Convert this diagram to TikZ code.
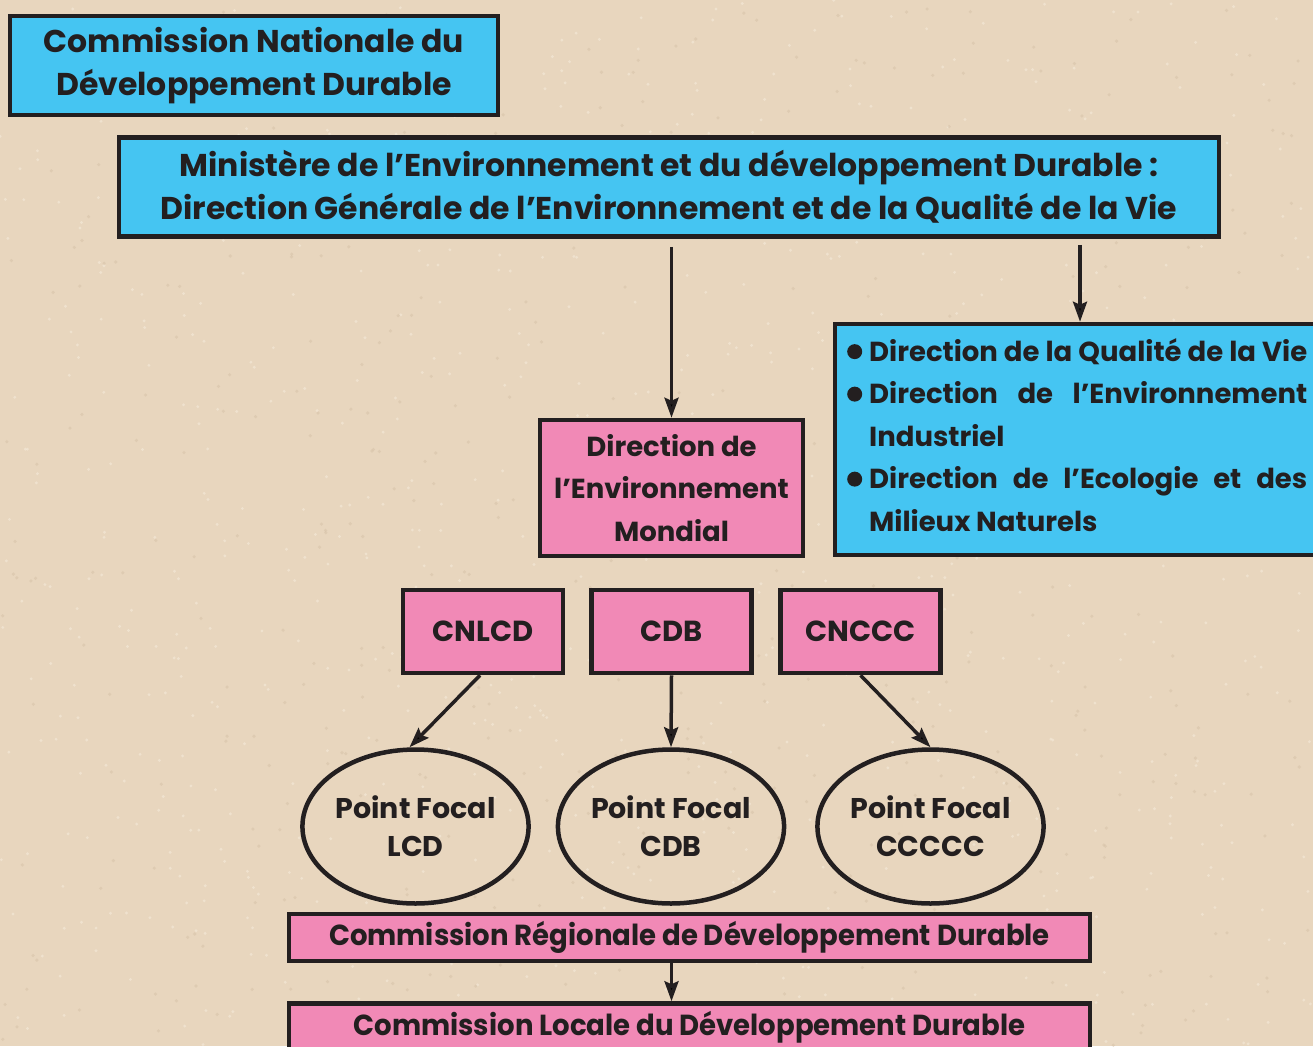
\documentclass[tikz,border=0pt]{standalone}
\usepackage{fontspec}
\setmainfont{Poppins}[BoldFont={* Bold}]
\newfontfamily\condfont{Poppins}[BoldFont={* Bold},FakeStretch=0.95]
\usetikzlibrary{arrows.meta,shapes.geometric}
\definecolor{bgbeige}{RGB}{232,214,190}
\definecolor{speckA}{RGB}{245,234,218}
\definecolor{speckB}{RGB}{214,194,168}
\definecolor{boxblue}{RGB}{69,197,242}
\definecolor{boxpink}{RGB}{241,137,182}
\definecolor{ink}{RGB}{35,31,32}
\newcommand{\bulletdot}{\makebox[22pt][l]{\raisebox{2pt}{\tikz\fill[ink] (0,0) circle (7.5pt);}}}
\begin{document}
\begin{tikzpicture}[x=1pt,y=-1pt,
  bx/.style={draw=ink,line width=4.5pt,inner sep=0pt,text=ink,align=center,
    font=\fontsize{29}{42.5}\selectfont\bfseries},
  bluebox/.style={bx,fill=boxblue,font=\fontsize{31.5}{42.5}\selectfont\bfseries},
  pinkbox/.style={bx,fill=boxpink},
  oval/.style={ellipse,draw=ink,line width=4.5pt,fill=none,inner sep=0pt,text=ink,
    align=center,minimum width=208pt,minimum height=154pt,
    font=\fontsize{28.5}{38}\selectfont\bfseries},
  arr/.style={draw=ink,line width=3.5pt,-{Stealth[length=20pt,width=14pt,inset=3pt]}}]
\fill[bgbeige] (0,0) rectangle (1313,1046);
\useasboundingbox (0,0) rectangle (1313,1046);
\clip (0,0) rectangle (1313,1046);
\pgfmathsetseed{7}
\foreach \i in {1,...,900}{
  \pgfmathsetmacro{\px}{rnd*1313}\pgfmathsetmacro{\py}{rnd*1046}
  \fill[speckA,opacity=0.6] (\px,\py) circle (1.6pt);}
\foreach \i in {1,...,500}{
  \pgfmathsetmacro{\px}{rnd*1313}\pgfmathsetmacro{\py}{rnd*1046}
  \fill[speckB,opacity=0.5] (\px,\py) circle (1.8pt);}

\node[bluebox,minimum width=488pt,minimum height=99pt] (cnd) at (254,65.5)
  {Commission Nationale du\\Développement Durable};
\node[bluebox,minimum width=1100pt,minimum height=99pt] (min) at (669,187)
  {Ministère de l’Environnement et du développement Durable :\\Direction Générale de l’Environnement et de la Qualité de la Vie};
\node[bluebox,minimum width=563pt,minimum height=231pt] (dirs) at (1116.5,439.5) {};
\node[anchor=north west,inner sep=0pt,text=ink,align=left,
  font=\fontsize{27.5}{42.5}\selectfont\bfseries] (dirtext) at (847,338)
  {\bulletdot\makebox[438pt][s]{Direction de la Qualité de la Vie}\\
   \bulletdot\makebox[438pt][s]{Direction de l’Environnement}\\
   \makebox[22pt][l]{}Industriel\\
   \bulletdot\makebox[438pt][s]{Direction de l’Ecologie et des}\\
   \makebox[22pt][l]{}Milieux Naturels};

\node[pinkbox,minimum width=263pt,minimum height=136pt,
  font=\fontsize{27.5}{42.5}\selectfont\bfseries] (dem) at (671.5,488)
  {Direction de\\l’Environnement\\Mondial};
\node[pinkbox,minimum width=160pt,minimum height=83pt] (cnlcd) at (483,631.5) {CNLCD};
\node[pinkbox,minimum width=160pt,minimum height=83pt] (cdb) at (671.5,631.5) {CDB};
\node[pinkbox,minimum width=160pt,minimum height=83pt] (cnccc) at (860.5,631.5) {CNCCC};

\node[oval] (plcd) at (415.5,826.5) {Point Focal\\LCD};
\node[oval] (pcdb) at (671,826.5) {Point Focal\\CDB};
\node[oval] (pccc) at (930.5,826.5) {Point Focal\\CCCCC};

\node[pinkbox,minimum width=801pt,minimum height=47pt,
  font=\condfont\fontsize{29}{40}\selectfont\bfseries] (crdd) at (689.5,937.5)
  {Commission Régionale de Développement Durable};
\node[pinkbox,minimum width=801pt,minimum height=47pt,
  font=\condfont\fontsize{29}{40}\selectfont\bfseries] (cldd) at (689.5,1027)
  {Commission Locale du Développement Durable};

\draw[arr] ([yshift=-8pt]min.south -| dem.north) -- (dem.north);
\coordinate (mr) at ([yshift=-6pt]min.south -| 1080,0);
\draw[arr] (mr) -- (mr |- dirs.north);
\draw[arr] ([xshift=-3pt]cnlcd.south) -- ([xshift=-6pt]plcd.north);
\draw[arr] (cdb.south) -- (pcdb.north);
\draw[arr] (cnccc.south) -- (pccc.north);
\draw[arr] (crdd.south -| cdb.south) -- (cldd.north -| cdb.south);
\end{tikzpicture}
\end{document}
